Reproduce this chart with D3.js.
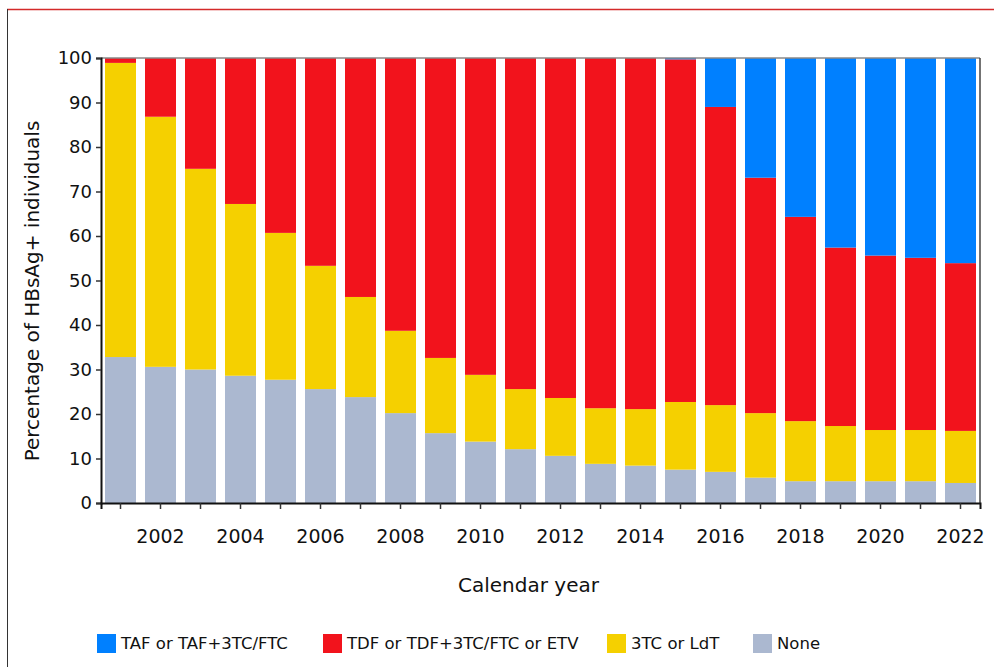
<!DOCTYPE html>
<html>
<head>
<meta charset="utf-8">
<script src="https://cdn.jsdelivr.net/npm/d3@7"></script>
<style>
  body { margin: 0; background: #fff; }
  svg { display: block; font-family: Verdana, "DejaVu Sans", sans-serif; }
</style>
</head>
<body>
<svg id="chart" width="994" height="667"></svg>
<script>
"use strict";

// calendar years on the x axis
var years = d3.range(2001, 2023);

// share of HBsAg+ individuals per regimen (percent)
var noneVals = [32.8, 30.6, 30.0, 28.6, 27.7, 25.6, 23.8, 20.2, 15.7, 13.8, 12.1,
  10.6, 8.8, 8.4, 7.5, 7.0, 5.7, 4.9, 4.9, 4.9, 4.9, 4.5];
var ltVals = [66.1, 56.2, 45.1, 38.6, 33.0, 27.7, 22.5, 18.5, 16.9, 15.0, 13.5,
  13.0, 12.5, 12.7, 15.2, 15.0, 14.5, 13.5, 12.4, 11.5, 11.5, 11.7];
var tdfVals = [1.1, 13.2, 24.9, 32.8, 39.3, 46.7, 53.7, 61.3, 67.4, 71.2, 74.4,
  76.4, 78.7, 78.9, 77.0, 67.0, 52.9, 45.9, 40.1, 39.2, 38.7, 37.7];
var tafVals = [0, 0, 0, 0, 0, 0, 0, 0, 0, 0, 0,
  0, 0, 0, 0.3, 11.0, 26.9, 35.7, 42.6, 44.4, 44.9, 46.1];

var yTicks = [0, 10, 20, 30, 40, 50, 60, 70, 80, 90, 100];

// stacking order bottom -> top, legend order is the reverse
var seriesKeys = ["none", "lt", "tdf", "taf"];
var seriesNames = {
  taf: "TAF or TAF+3TC/FTC",
  tdf: "TDF or TDF+3TC/FTC or ETV",
  lt: "3TC or LdT",
  none: "None"
};
var seriesColors = {
  taf: "#0080ff",
  tdf: "#f2131c",
  lt: "#f5d000",
  none: "#abb8d0"
};

var rows = years.map(function(y, i) {
  return { year: y, none: noneVals[i], lt: ltVals[i], tdf: tdfVals[i], taf: tafVals[i] };
});

var svg = d3.select("#chart");

// outer frame
svg.append("line")
  .attr("x1", 7).attr("x2", 994).attr("y1", 9.5).attr("y2", 9.5)
  .attr("stroke", "#d42a2a").attr("stroke-width", 1.5);
svg.append("line")
  .attr("x1", 7.5).attr("x2", 7.5).attr("y1", 9).attr("y2", 667)
  .attr("stroke", "#333").attr("stroke-width", 1);

var margin = { left: 101, top: 58, right: 14, bottom: 164 };
var width = 994 - margin.left - margin.right;
var height = 667 - margin.top - margin.bottom;

var g = svg.append("g")
  .attr("transform", "translate(" + margin.left + "," + margin.top + ")");

var x = d3.scaleBand()
  .domain(years)
  .range([0, width])
  .paddingInner(0.225)
  .paddingOuter(0.1);

var y = d3.scaleLinear()
  .domain([0, 100])
  .range([height, 0]);

var stacked = d3.stack().keys(seriesKeys)(rows);

g.selectAll(".layer")
  .data(stacked)
  .enter()
  .append("g")
  .attr("class", "layer")
  .attr("fill", function(d) { return seriesColors[d.key]; })
  .selectAll("rect")
  .data(function(d) { return d; })
  .enter()
  .append("rect")
  .attr("x", function(d) { return x(d.data.year); })
  .attr("width", x.bandwidth())
  .attr("y", function(d) { return y(d[1]); })
  .attr("height", function(d) { return y(d[0]) - y(d[1]); });

// plot frame: grey top, dark right
g.append("line")
  .attr("x1", 0).attr("x2", width).attr("y1", 0).attr("y2", 0)
  .attr("stroke", "#888").attr("stroke-width", 1.5);
g.append("line")
  .attr("x1", width).attr("x2", width).attr("y1", 0).attr("y2", height)
  .attr("stroke", "#444").attr("stroke-width", 1.5);

// axes
var yAxis = g.append("g")
  .call(d3.axisLeft(y).tickValues(yTicks).tickSize(5).tickPadding(4));

var xAxis = g.append("g")
  .attr("transform", "translate(0," + height + ")")
  .call(d3.axisBottom(x)
    .tickSize(6)
    .tickPadding(21)
    .tickFormat(function(d) { return d % 2 === 0 ? d : ""; }));

[yAxis, xAxis].forEach(function(ax) {
  ax.select(".domain").attr("stroke", "#111").attr("stroke-width", 2);
  ax.selectAll(".tick line").attr("stroke", "#333").attr("stroke-width", 1.5);
  ax.selectAll(".tick text")
    .attr("fill", "#111")
    .style("font-family", "Verdana, 'DejaVu Sans', sans-serif");
});
yAxis.selectAll(".tick text").style("font-size", "18px");
xAxis.selectAll(".tick text").style("font-size", "19px");

// axis titles
svg.append("text")
  .attr("x", margin.left + width / 2 - 12)
  .attr("y", 592)
  .attr("text-anchor", "middle")
  .style("font-size", "20px")
  .attr("fill", "#111")
  .text("Calendar year");

svg.append("text")
  .attr("transform", "translate(39,291) rotate(-90)")
  .attr("text-anchor", "middle")
  .style("font-size", "20px")
  .attr("fill", "#111")
  .text("Percentage of HBsAg+ individuals");

// legend
var legendKeys = ["taf", "tdf", "lt", "none"];
var legendX = [97, 323, 607, 753];

var legend = svg.selectAll(".legend")
  .data(legendKeys)
  .enter()
  .append("g")
  .attr("class", "legend")
  .attr("transform", function(d, i) { return "translate(" + legendX[i] + ",634)"; });

legend.append("rect")
  .attr("width", 19)
  .attr("height", 19)
  .attr("fill", function(d) { return seriesColors[d]; });

legend.append("text")
  .attr("x", 24)
  .attr("y", 15)
  .style("font-size", "16.5px")
  .attr("fill", "#111")
  .text(function(d) { return seriesNames[d]; });
</script>
</body>
</html>
